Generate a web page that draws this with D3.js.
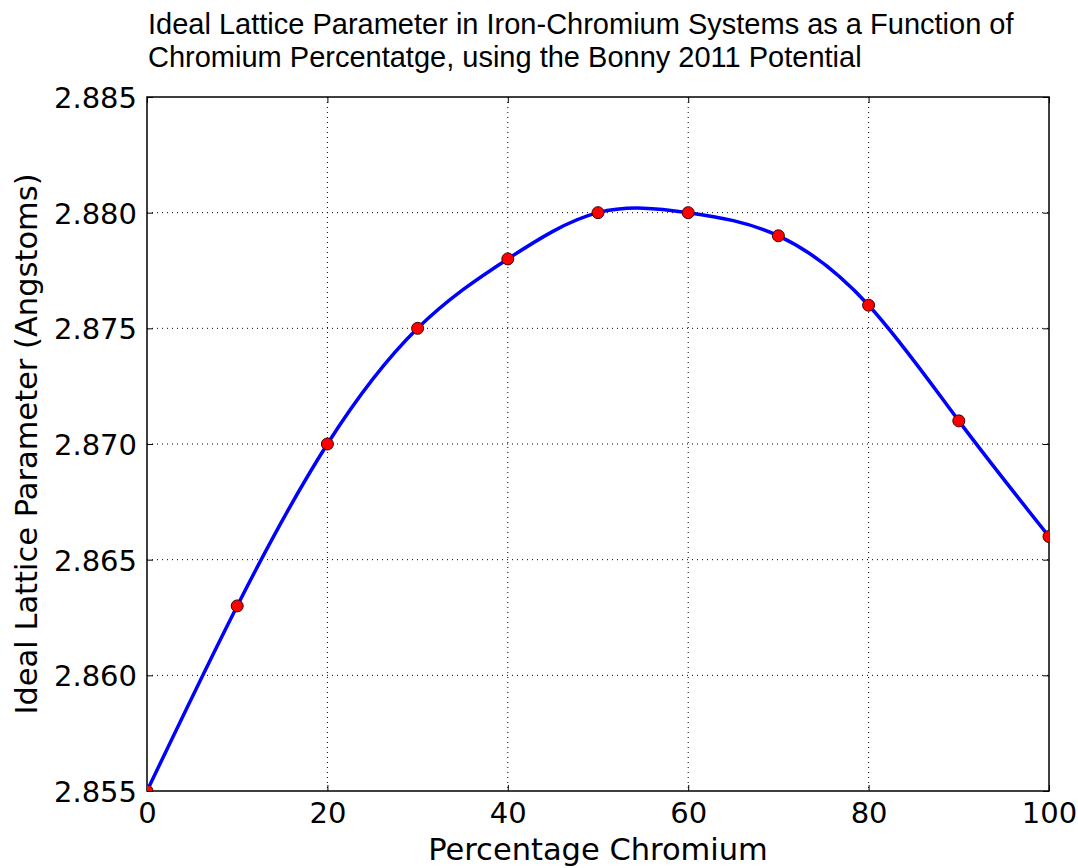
<!DOCTYPE html>
<html><head><meta charset="utf-8">
<script src="https://cdn.jsdelivr.net/npm/d3@7"></script>
<style>body{margin:0;background:#fff}</style>
</head><body>
<svg id="c" width="1078" height="868"></svg>
<script>
const xValues = [0,10,20,30,40,50,60,70,80,90,100];
const yValues = [2.855,2.863,2.870,2.875,2.878,2.880,2.880,2.879,2.876,2.871,2.866];
const xTicks = [0,20,40,60,80,100];
const yTicks = [2.855,2.860,2.865,2.870,2.875,2.880,2.885];
const titleLines = ["Ideal Lattice Parameter in Iron-Chromium Systems as a Function of","Chromium Percentatge, using the Bonny 2011 Potential"];
const xLabel = "Percentage Chromium";
const yLabel = "Ideal Lattice Parameter (Angstoms)";

const svg = d3.select("#c");
const L=147, R=1049, T=97, B=791;
const x = d3.scaleLinear().domain([0,100]).range([L,R]);
const y = d3.scaleLinear().domain([2.855,2.885]).range([B,T]);
const font = "DejaVu Sans";

// grid
const g = svg.append("g");
g.selectAll(".gx").data(xTicks.slice(1,-1)).enter().append("line")
 .attr("x1",d=>x(d)).attr("x2",d=>x(d)).attr("y1",T).attr("y2",B)
 .attr("stroke","#000").attr("stroke-width",1).attr("stroke-dasharray","1,4");
g.selectAll(".gy").data(yTicks.slice(1,-1)).enter().append("line")
 .attr("y1",d=>y(d)).attr("y2",d=>y(d)).attr("x1",L).attr("x2",R)
 .attr("stroke","#000").attr("stroke-width",1).attr("stroke-dasharray","1,4");

// axes
const fmtY = d3.format(".3f");
const ax = svg.append("g").attr("transform",`translate(0,${B})`)
 .call(d3.axisBottom(x).tickValues(xTicks).tickSize(-6).tickPadding(10).tickFormat(d3.format("d")));
const axTop = svg.append("g").attr("transform",`translate(0,${T})`)
 .call(d3.axisTop(x).tickValues(xTicks).tickSize(-6).tickFormat(""));
const ay = svg.append("g").attr("transform",`translate(${L},0)`)
 .call(d3.axisLeft(y).tickValues(yTicks).tickSize(-6).tickPadding(10).tickFormat(fmtY));
const ayR = svg.append("g").attr("transform",`translate(${R},0)`)
 .call(d3.axisRight(y).tickValues(yTicks).tickSize(-6).tickFormat(""));
[ax,axTop,ay,ayR].forEach(a=>{
  a.selectAll(".domain").remove();
  a.selectAll("line").attr("stroke","#000").attr("stroke-width",1);
  a.selectAll("text").attr("font-family",font).attr("font-size",29).attr("fill","#000");
});
ax.selectAll("text").attr("dy",0).attr("y",32);
ay.selectAll("text").attr("dy","0.36em");

svg.append("rect").attr("x",L).attr("y",T).attr("width",R-L).attr("height",B-T)
 .attr("fill","none").attr("stroke","#000").attr("stroke-width",1.5);

// line
const pts = xValues.map((d,i)=>[d,yValues[i]]);
svg.append("defs").append("clipPath").attr("id","clip").append("rect")
 .attr("x",L).attr("y",T).attr("width",R-L).attr("height",B-T);
svg.append("path").datum(pts)
 .attr("d",d3.line().x(d=>x(d[0])).y(d=>y(d[1])).curve(d3.curveNatural))
 .attr("fill","none").attr("stroke","#0000ff").attr("stroke-width",3.5)
 .attr("clip-path","url(#clip)");
svg.append("g").attr("clip-path","url(#clip)").selectAll("circle").data(pts).enter().append("circle")
 .attr("cx",d=>x(d[0])).attr("cy",d=>y(d[1])).attr("r",6)
 .attr("fill","#ff0000").attr("stroke","#400000").attr("stroke-width",1);

// title
svg.append("text").attr("x",148).attr("y",0).attr("font-family","Liberation Sans, Arial").attr("font-size",29).attr("fill","#000")
 .selectAll("tspan").data(titleLines).enter().append("tspan")
 .attr("x",148).attr("y",(d,i)=>34+i*33).text(d=>d);

svg.append("text").attr("x",(L+R)/2).attr("y",860).attr("text-anchor","middle")
 .attr("font-family",font).attr("font-size",30.5).attr("fill","#000").text(xLabel);
svg.append("text").attr("transform",`translate(37,${(T+B)/2}) rotate(-90)`).attr("text-anchor","middle")
 .attr("font-family",font).attr("font-size",30.5).attr("fill","#000").text(yLabel);
</script>
</body></html>
